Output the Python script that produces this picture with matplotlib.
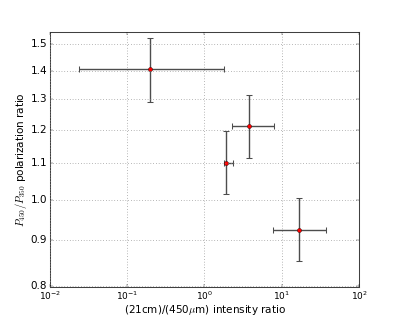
import matplotlib
matplotlib.use("Agg")
import matplotlib.pyplot as plt
from matplotlib.ticker import FixedLocator, FixedFormatter, NullLocator, LogLocator

plt.style.use("classic")
plt.rcParams["mathtext.fontset"] = "cm"
plt.rcParams["font.size"] = 15

# intensity ratio (21cm / 450um) and polarization ratio P450/P350
x_val = [0.198, 1.90, 3.80, 16.8]
x_lo = [0.024, 1.77, 2.29, 7.69]
x_hi = [1.77, 2.31, 7.83, 36.8]
y_val = [1.404, 1.102, 1.211, 0.925]
y_lo = [1.291, 1.015, 1.114, 0.852]
y_hi = [1.522, 1.197, 1.314, 1.004]

y_ticks = [0.8, 0.9, 1.0, 1.1, 1.2, 1.3, 1.4, 1.5]
y_tick_labels = ["0.8", "0.9", "1.0", "1.1", "1.2", "1.3", "1.4", "1.5"]

xerr = [[v - lo for v, lo in zip(x_val, x_lo)], [hi - v for v, hi in zip(x_val, x_hi)]]
yerr = [[v - lo for v, lo in zip(y_val, y_lo)], [hi - v for v, hi in zip(y_val, y_hi)]]

fig = plt.figure(figsize=(7.98, 6.38), dpi=50)
ax = fig.add_subplot(111)

ax.errorbar(x_val, y_val, xerr=xerr, yerr=yerr, fmt="o", color="red",
            markeredgecolor="k", markersize=6, ecolor="0.3", elinewidth=2,
            capsize=4, capthick=1.5)

ax.set_xscale("log")
ax.set_yscale("log")
ax.set_xlim(1e-2, 1e2)
ax.set_ylim(0.797, 1.548)
ax.xaxis.set_major_locator(LogLocator(base=10))
ax.xaxis.set_minor_locator(NullLocator())
ax.yaxis.set_major_locator(FixedLocator(y_ticks))
ax.yaxis.set_major_formatter(FixedFormatter(y_tick_labels))
ax.yaxis.set_minor_locator(NullLocator())
ax.yaxis.set_minor_formatter(FixedFormatter([]))
ax.tick_params(axis="x", labelsize=13)

ax.grid(True, color="0.55", linewidth=1.2)
for sp in ax.spines.values():
    sp.set_linewidth(1.5)
    sp.set_color("0.25")
ax.set_xlabel(r"(21cm)/(450$\mu$m) intensity ratio", labelpad=1)
ax.set_ylabel(r"$P_{450}/P_{350}$ polarization ratio", labelpad=2)

fig.savefig("out.png", dpi=50)
